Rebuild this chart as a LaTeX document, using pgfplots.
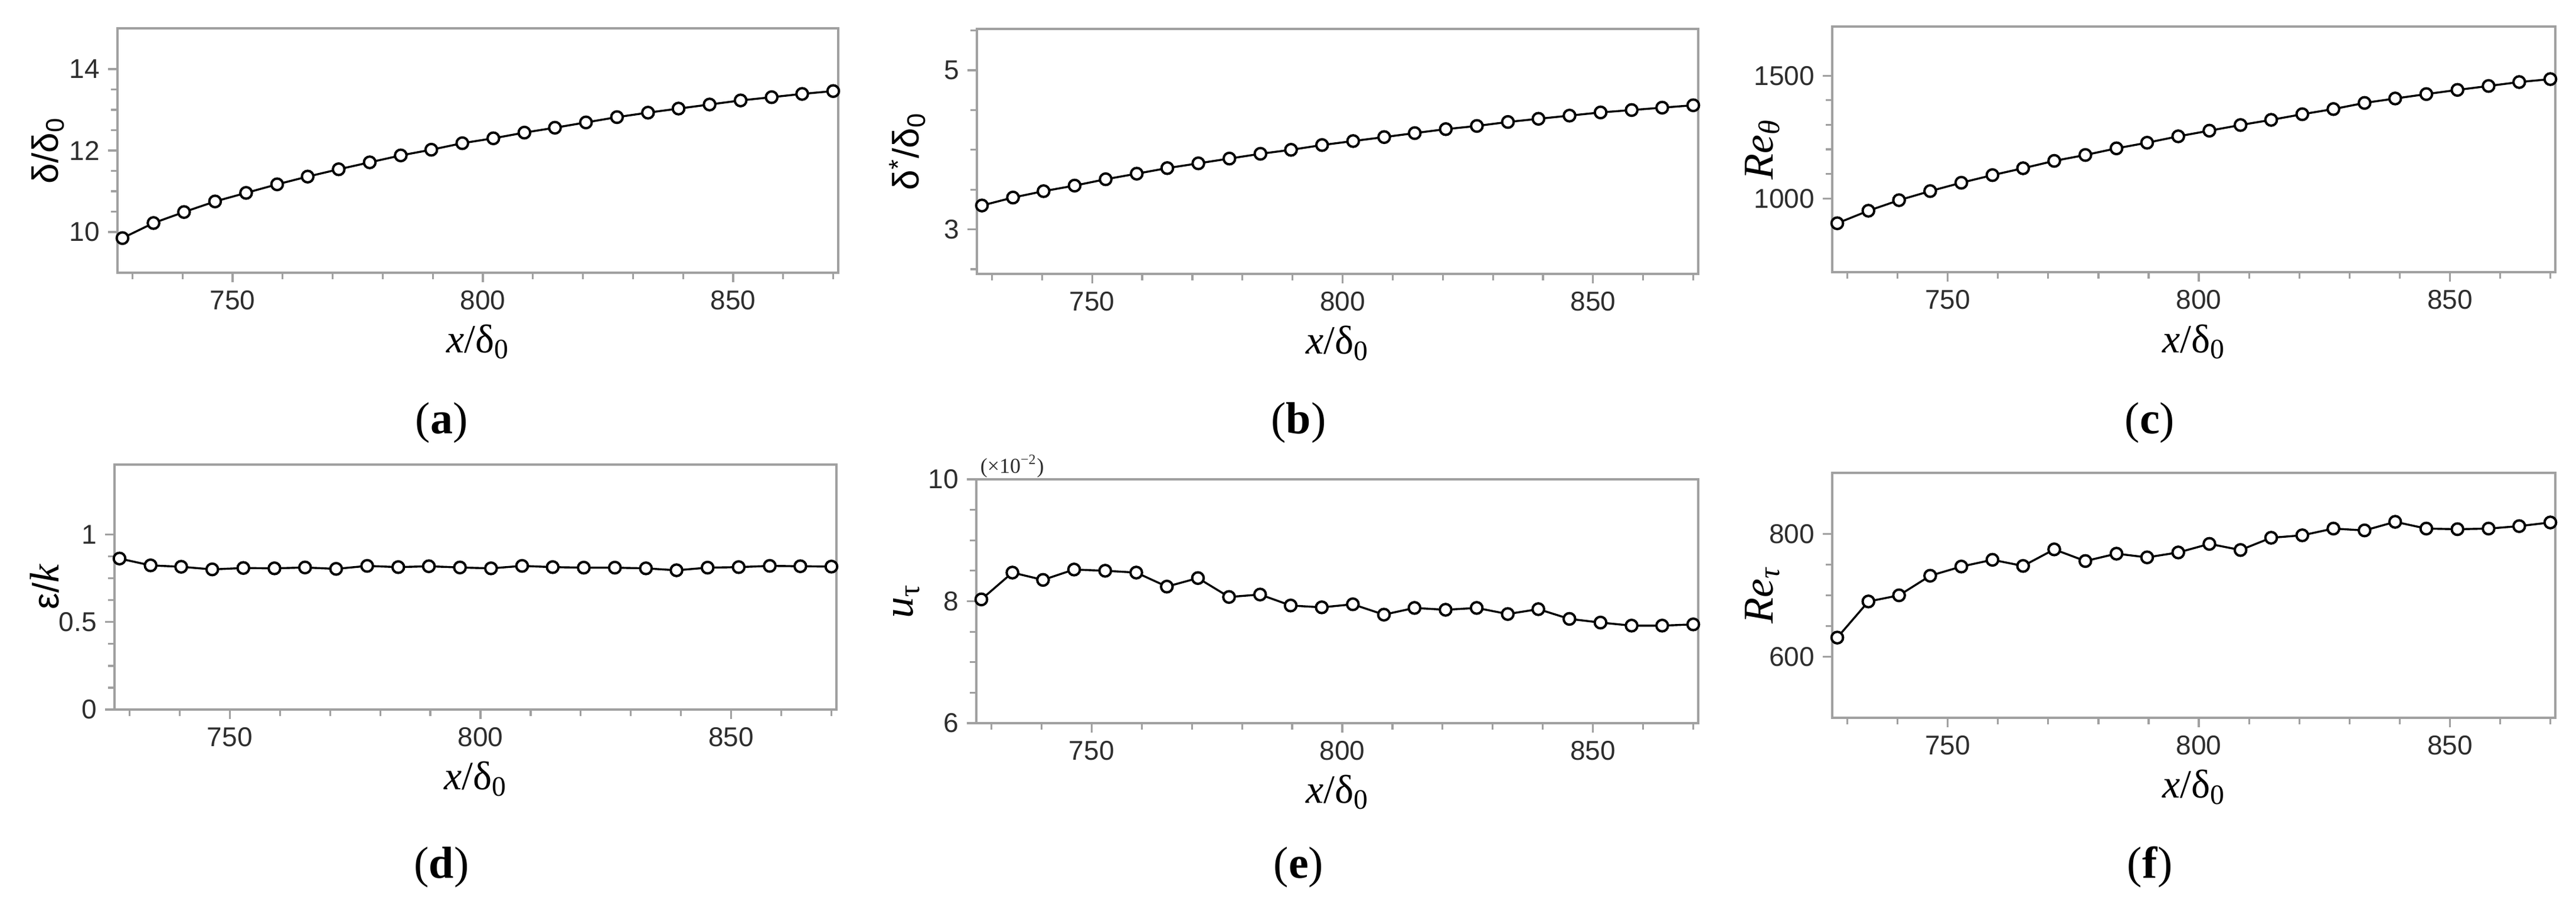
\documentclass[border=0pt]{standalone}
\usepackage{pgfplots}
\usepackage{pgfplotstable}
\pgfplotsset{compat=1.18}
\usepackage{fontspec}
\setmainfont{Liberation Serif}
\setsansfont{Liberation Sans}
\definecolor{framegray}{RGB}{160,160,160}
\definecolor{ticktext}{RGB}{45,45,45}

\pgfplotstableread{
x a b c d e f
728.0 9.85 3.30 899 0.863 8.03 631
734.2 10.22 3.40 950 0.824 8.47 690
740.3 10.49 3.48 993 0.816 8.35 700
746.5 10.75 3.55 1030 0.801 8.52 732
752.7 10.96 3.63 1064 0.809 8.50 747
758.9 11.17 3.70 1095 0.807 8.47 758
765.0 11.36 3.77 1123 0.812 8.24 748
771.2 11.54 3.83 1153 0.804 8.38 775
777.4 11.71 3.89 1177 0.821 8.07 756
783.6 11.88 3.95 1204 0.814 8.11 768
789.7 12.02 4.00 1227 0.819 7.93 762
795.9 12.18 4.06 1253 0.812 7.90 770
802.1 12.30 4.11 1276 0.807 7.95 784
808.3 12.44 4.16 1299 0.821 7.78 774
814.4 12.56 4.21 1320 0.814 7.89 794
820.6 12.69 4.26 1343 0.811 7.86 798
826.8 12.82 4.30 1364 0.811 7.89 809
833.0 12.93 4.35 1389 0.807 7.79 806
839.1 13.03 4.39 1407 0.796 7.87 820
845.3 13.13 4.43 1425 0.811 7.71 809
851.5 13.23 4.47 1442 0.814 7.65 808
857.7 13.31 4.50 1458 0.821 7.60 809
863.8 13.39 4.53 1474 0.819 7.60 813
870.0 13.46 4.56 1486 0.817 7.62 819
}\data

\pgfplotsset{
  panel/.style={
    scale only axis,
    anchor=south west,
    xmin=727, xmax=871,
    xtick={750,800,850},
    minor xtick={730,740,760,770,780,790,810,820,830,840,860,870},
    tick align=outside,
    tick pos=left,
    major tick length=4pt,
    minor tick length=2.75pt,
    axis line style={framegray, line width=1pt},
    every tick/.append style={framegray, line width=0.8pt},
    tick label style={font=\fontsize{11.5}{12}\sffamily, text=ticktext},
    /pgf/number format/assume math mode=true,
    /pgf/number format/1000 sep={},
    xlabel={\textit{x}/δ\textsubscript{0}},
    every axis x label/.style={at={(axis description cs:0.5,-0.327)}, anchor=base, font=\fontsize{17}{18}\rmfamily},
    every axis y label/.style={at={(axis description cs:-0.0966,0.5)}, anchor=center, rotate=90},
    clip=false,
  },
  curve/.style={black, line width=0.85pt, mark=*, mark size=2.45pt,
    mark options={fill=white, draw=black, line width=1pt, solid}},
}

\begin{document}
\begin{tikzpicture}
\path[use as bounding box] (0,0) rectangle (1091pt,-382pt);

% (a)
\begin{axis}[panel, at={(49.75pt,-115.5pt)}, width=305.25pt, height=103.5pt,
  ymin=9, ymax=15, ytick={10,12,14}, minor y tick num=3,
  ylabel={\fontsize{15.5}{16}\sffamily δ/δ\textsubscript{0}}]
\addplot[curve] table[x=x, y=a] {\data};
\end{axis}

% (b)
\begin{axis}[panel, at={(413.75pt,-116pt)}, width=305.5pt, height=103.75pt,
  ymin=2.44, ymax=5.52, ytick={3,5}, minor ytick={2.5,3.5,4,4.5,5.5},
  ylabel={\fontsize{15.5}{16}\sffamily δ\textsuperscript{*}/δ\textsubscript{0}}]
\addplot[curve] table[x=x, y=b] {\data};
\end{axis}

% (c)
\begin{axis}[panel, at={(776pt,-115.25pt)}, width=306.25pt, height=104pt,
  ymin=700, ymax=1700, ytick={1000,1500}, minor y tick num=4,
  ylabel={\fontsize{18}{19}\rmfamily\itshape Re\textsubscript{θ}}]
\addplot[curve] table[x=x, y=c] {\data};
\end{axis}

% (d)
\begin{axis}[panel, at={(48.5pt,-300.5pt)}, width=305.75pt, height=103.75pt,
  ymin=0, ymax=1.4, ytick={0,0.5,1}, minor y tick num=3,
  ylabel={{\fontsize{15.5}{16}\sffamily ε/}{\fontsize{17.5}{18}\rmfamily\itshape k}}]
\addplot[curve] table[x=x, y=d] {\data};
\end{axis}

% (e)
\begin{axis}[panel, at={(413.5pt,-306.25pt)}, width=305.75pt, height=103.25pt,
  ymin=6, ymax=10, ytick={6,8,10}, minor y tick num=3,
  ylabel={\fontsize{18}{19}\rmfamily\textit{u}\textsubscript{τ}}]
\addplot[curve] table[x=x, y=e] {\data};
\node[anchor=south west, inner sep=0pt, font=\fontsize{9}{10}\rmfamily, text=ticktext]
  at (axis description cs:0,1) [xshift=1.5pt, yshift=0.5pt] {(×10\textsuperscript{−2})};
\end{axis}

% (f)
\begin{axis}[panel, at={(776pt,-304pt)}, width=306.25pt, height=103.75pt,
  ymin=500, ymax=900, ytick={600,800}, minor y tick num=3,
  ylabel={\fontsize{18}{19}\rmfamily\itshape Re\textsubscript{τ}}]
\addplot[curve] table[x=x, y=f] {\data};
\end{axis}

% subfigure labels
\begin{scope}[every node/.style={anchor=base, font=\fontsize{19}{20}\rmfamily, inner sep=0pt}]
\node at (187pt,-183.5pt) {(\textbf{a})};
\node at (550pt,-183.5pt) {(\textbf{b})};
\node at (910.5pt,-183.5pt) {(\textbf{c})};
\node at (187pt,-371.75pt) {(\textbf{d})};
\node at (550pt,-371.75pt) {(\textbf{e})};
\node at (910.5pt,-371.75pt) {(\textbf{f})};
\end{scope}
\end{tikzpicture}
\end{document}
